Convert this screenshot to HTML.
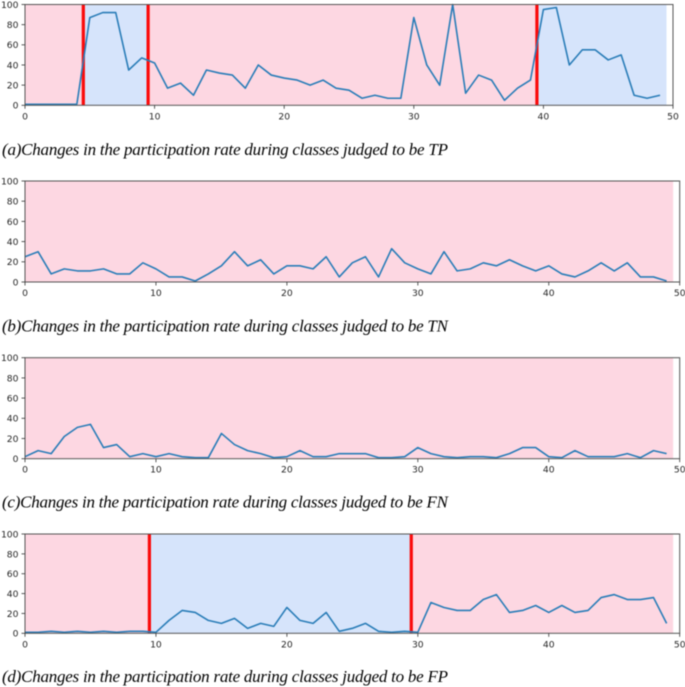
<!DOCTYPE html>
<html lang="en">
<head>
<meta charset="utf-8">
<title>Participation rate charts</title>
<style>
html,body{margin:0;padding:0;background:#fff;width:685px;height:687px;overflow:hidden}
svg{display:block;filter:blur(.45px)}
.tick{font-family:"DejaVu Sans","Liberation Sans",sans-serif;font-size:9.2px;fill:#262626}
.cap{font-family:"Liberation Serif",serif;font-style:italic;font-size:17px;fill:#000}
</style>
</head>
<body>
<svg id="figure" xmlns="http://www.w3.org/2000/svg" width="685" height="687" viewBox="0 0 685 687"></svg>
<script>
const seriesTP = [1,1,1,1,1,87,92,92,35,47,42,17,22,10,35,32,30,17,40,30,27,25,20,25,17,15,7,10,7,7,87,40,20,100,12,30,25,5,17,25,95,97,40,55,55,45,50,10,7,10];
const seriesTN = [25,30,8,13,11,11,13,8,8,19,13,5,5,1,8,16,30,16,22,8,16,16,13,25,5,19,25,5,33,19,13,8,30,11,13,19,16,22,16,11,16,8,5,11,19,11,19,5,5,1];
const seriesFN = [2,8,5,22,31,34,11,14,2,5,2,5,2,1,1,25,14,8,5,1,2,8,2,2,5,5,5,1,1,2,11,5,2,1,2,2,1,5,11,11,2,1,8,2,2,2,5,1,8,5];
const seriesFP = [1,1,2,1,2,1,2,1,2,2,1,13,23,21,13,10,15,5,10,7,26,13,10,21,2,5,10,2,1,2,1,31,26,23,23,34,39,21,23,28,21,28,21,23,36,39,34,34,36,10];

const xTicks = [0,10,20,30,40,50];
const yTicks = [0,20,40,60,80,100];

const changesTP = [4.5,9.5,39.5];
const changesTN = [];
const changesFN = [];
const changesFP = [9.5,29.5];

const statesTP = ["pink","blue","pink","blue"];
const statesTN = ["pink"];
const statesFN = ["pink"];
const statesFP = ["pink","blue","pink"];

const captionTP = "(a)Changes in the participation rate during classes judged to be TP";
const captionTN = "(b)Changes in the participation rate during classes judged to be TN";
const captionFN = "(c)Changes in the participation rate during classes judged to be FN";
const captionFP = "(d)Changes in the participation rate during classes judged to be FP";

const NS = "http://www.w3.org/2000/svg";
const svg = document.getElementById("figure");
const COLORS = {pink:"#fdd7e2", blue:"#d6e4fb"};
const X_MIN = 0, X_MAX = 50, SPAN_END = 49.5, Y_MIN = 0, Y_MAX = 100;

function make(parent, tag, attrs){
  const el = document.createElementNS(NS, tag);
  for (const k in attrs) el.setAttribute(k, attrs[k]);
  parent.appendChild(el);
  return el;
}

function drawPanel(cfg){
  const xScale = v => cfg.left + (v - X_MIN) / (X_MAX - X_MIN) * (cfg.right - cfg.left);
  const yScale = v => cfg.bottom - (v - Y_MIN) / (Y_MAX - Y_MIN) * (cfg.bottom - cfg.top);

  const g = make(svg, "g", {});
  
  

  const edges = [X_MIN].concat(cfg.changes, [SPAN_END]);
  cfg.states.forEach((state, i) => {
    const r = make(g, "rect", {
      x: xScale(edges[i]), y: cfg.top,
      width: xScale(edges[i + 1]) - xScale(edges[i]),
      height: cfg.bottom - cfg.top,
      fill: COLORS[state]
    });
    
    
  });

  cfg.changes.forEach(c => {
    const l = make(g, "line", {
      x1: xScale(c), x2: xScale(c), y1: cfg.top, y2: cfg.bottom,
      stroke: "#fb0a0a", "stroke-width": 3.2
    });
    
    
  });

  const pts = cfg.values.map((v, i) => xScale(i).toFixed(2) + "," + yScale(v).toFixed(2)).join(" ");
  const line = make(g, "polyline", {
    points: pts, fill: "none", stroke: "#2a7db8", "stroke-width": 1.6, "stroke-linejoin": "round"
  });
  
  

  const frame = make(g, "rect", {
    x: cfg.left, y: cfg.top, width: cfg.right - cfg.left, height: cfg.bottom - cfg.top,
    fill: "none", stroke: "#555", "stroke-width": 1
  });
  
  

  xTicks.forEach(t => {
    const m = make(g, "line", {
      x1: xScale(t), x2: xScale(t), y1: cfg.bottom, y2: cfg.bottom + 3.5, stroke: "#333", "stroke-width": 0.8
    });
    
    
    const txt = make(g, "text", {x: xScale(t), y: cfg.bottom + 14, "text-anchor": "middle", class: "tick"});
    txt.textContent = t;
    
    
  });

  yTicks.forEach(t => {
    const m = make(g, "line", {
      x1: cfg.left - 3.5, x2: cfg.left, y1: yScale(t), y2: yScale(t), stroke: "#333", "stroke-width": 0.8
    });
    
    
    const txt = make(g, "text", {x: cfg.left - 6.5, y: yScale(t) + 3.4, "text-anchor": "end", class: "tick"});
    txt.textContent = t;
    
    
  });

  const cap = make(g, "text", {
    x: 2, y: cfg.capY, class: "cap", textLength: 446, lengthAdjust: "spacing"
  });
  cap.textContent = cfg.caption;
  
  
}

drawPanel({id:"tp", values:seriesTP, changes:changesTP, states:statesTP, caption:captionTP, left:25, right:673, top:4.5, bottom:105.3, capY:155});
drawPanel({id:"tn", values:seriesTN, changes:changesTN, states:statesTN, caption:captionTN, left:25, right:679.7, top:181, bottom:282, capY:331.5});
drawPanel({id:"fn", values:seriesFN, changes:changesFN, states:statesFN, caption:captionFN, left:25, right:679.7, top:357.7, bottom:458.7, capY:507.7});
drawPanel({id:"fp", values:seriesFP, changes:changesFP, states:statesFP, caption:captionFP, left:25, right:679.7, top:534, bottom:633.3, capY:682});
</script>
</body>
</html>
